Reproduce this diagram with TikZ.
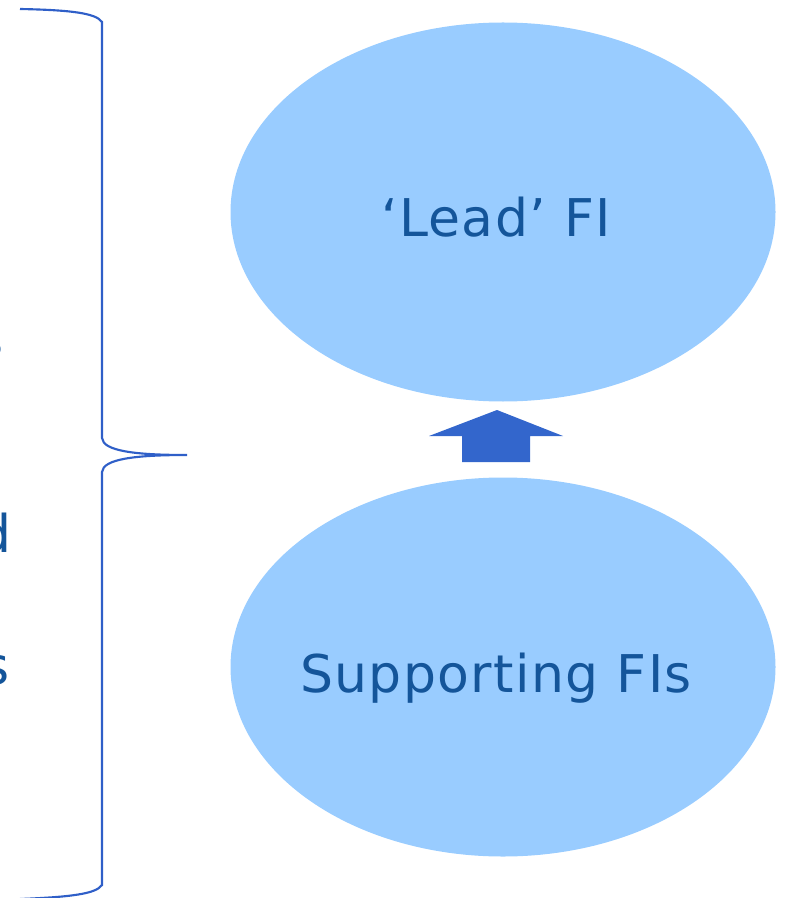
\documentclass[tikz,border=0pt]{standalone}
\usepackage{fontspec}
\setmainfont{DejaVu Sans}[LetterSpace=2.7]
\usetikzlibrary{shapes.geometric}
\definecolor{fillblue}{HTML}{99CCFF}
\definecolor{textblue}{HTML}{14559A}
\definecolor{arrowblue}{HTML}{3366CC}
\definecolor{braceblue}{HTML}{2F5FC8}
\tikzset{
  fi/.style={ellipse, fill=fillblue, draw=none, inner sep=0pt,
    minimum width=545*0.75pt, minimum height=379*0.75pt},
  fitext/.style={text=textblue, inner sep=0pt, anchor=base,
    font=\fontsize{39}{46}\selectfont},
  sidetext/.style={text=textblue, inner sep=0pt, anchor=base east,
    font=\fontsize{39}{46}\selectfont},
  bracestroke/.style={draw=braceblue, line width=1.6pt}
}
\begin{document}
\begin{tikzpicture}[x=0.75pt,y=-0.75pt]
  \useasboundingbox (0,0) rectangle (785,898);

  % the two institutions
  \node[fi] (lead) at (503,212) {};
  \node[fi] (support) at (503,667) {};
  \node[fitext] (leadlabel) at (496,237) {`Lead' FI};
  \node[fitext] (supportlabel) at (496,692) {Supporting FIs};

  % block arrow from the supporting FIs up to the lead FI
  \coordinate (tip) at (497,410);
  \fill[arrowblue] (tip) -- (563,436) -- (530,436) -- (530,462)
    -- (462,462) -- (462,436) -- (429,436) -- cycle;

  % ends of the words in the left column
  \node[sidetext] (w1) at (4,357) {s};
  \node[sidetext] (w2) at (12,552) {d};
  \node[sidetext] (w3) at (10,684) {s};

  % curly brace grouping both institutions
  \coordinate (bracetop) at (20,9);
  \coordinate (bracetip) at (187,455);
  \coordinate (bracebot) at (20,899);
  \draw[bracestroke] (bracetop) .. controls (70,10) and (96,13) .. (102,22)
    -- (102,438) .. controls (103,451) and (135,455) .. (bracetip)
    .. controls (135,455) and (103,459) .. (102,472)
    -- (102,885) .. controls (96,894) and (70,897) .. (bracebot);
\end{tikzpicture}
\end{document}
